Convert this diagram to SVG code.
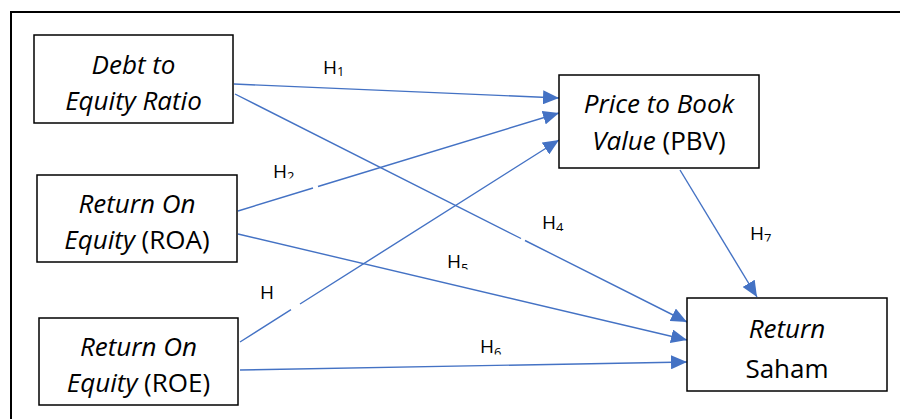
<svg xmlns="http://www.w3.org/2000/svg" width="900" height="419" viewBox="0 0 900 419">
<style>
.box{fill:#fff;stroke:#000;stroke-width:1.5}
.t{font-family:"Open Sans","Noto Sans",sans-serif;font-size:26px;fill:#000;text-anchor:middle}
.i{font-style:italic}
.c{fill:none;stroke:#4472C4;stroke-width:1.4}
.lab{font-family:"Open Sans","Noto Sans",sans-serif;font-size:19px;fill:#000}
.sub{font-size:13px}
</style>
<defs>
<marker id="ah" markerUnits="userSpaceOnUse" markerWidth="16" markerHeight="14" refX="16" refY="7" orient="auto">
<path d="M0,0 L16,7 L0,14 z" fill="#4472C4"/>
</marker>
<clipPath id="c2" clipPathUnits="userSpaceOnUse"><rect x="0" y="0" width="900" height="178.5"/></clipPath>
<clipPath id="c4" clipPathUnits="userSpaceOnUse"><rect x="0" y="0" width="900" height="231"/></clipPath>
<clipPath id="c5" clipPathUnits="userSpaceOnUse"><rect x="0" y="0" width="900" height="269.5"/></clipPath>
<clipPath id="c6" clipPathUnits="userSpaceOnUse"><rect x="0" y="0" width="900" height="354.5"/></clipPath>
<clipPath id="c7" clipPathUnits="userSpaceOnUse"><rect x="0" y="0" width="900" height="241.5"/></clipPath>
</defs>
<rect width="900" height="419" fill="#fff"/>
<path d="M11,419 V12 H900" fill="none" stroke="#000" stroke-width="2"/>

<g id="connectors">
<path class="c" d="M234,84 L559,98" marker-end="url(#ah)"/>
<path class="c" d="M235,94 L521,238.5 M525,240.5 L687,322" marker-end="url(#ah)"/>
<path class="c" d="M238,211 L313,188 M318,186.5 L559,113" marker-end="url(#ah)"/>
<path class="c" d="M238,234 L687,340" marker-end="url(#ah)"/>
<path class="c" d="M240,342 L291,309.7 M300,304 L559,140" marker-end="url(#ah)"/>
<path class="c" d="M240,370 L687,362" marker-end="url(#ah)"/>
<path class="c" d="M680,170 L757,297" marker-end="url(#ah)"/>
</g>

<g id="labels">
<text class="lab" x="323" y="74">H<tspan class="sub" dy="2">1</tspan></text>
<g clip-path="url(#c2)"><text class="lab" x="273" y="178">H<tspan class="sub" dy="3">2</tspan></text></g>
<text class="lab" x="260" y="299">H</text>
<g clip-path="url(#c4)"><text class="lab" x="542" y="229">H<tspan class="sub" dy="3">4</tspan></text></g>
<g clip-path="url(#c5)"><text class="lab" x="447" y="268">H<tspan class="sub" dy="5">5</tspan></text></g>
<g clip-path="url(#c6)"><text class="lab" x="480" y="353">H<tspan class="sub" dy="4">6</tspan></text></g>
<g clip-path="url(#c7)"><text class="lab" x="750" y="240">H<tspan class="sub" dy="3">7</tspan></text></g>
</g>

<g id="der">
<rect class="box" x="34" y="35" width="199" height="88"/>
<text class="t i" x="133.5" y="74">Debt to</text>
<text class="t i" x="133.5" y="110">Equity Ratio</text>
</g>

<g id="roa">
<rect class="box" x="37" y="175" width="200" height="87"/>
<text class="t" x="137" y="213"><tspan class="i">Return On</tspan></text>
<text class="t" x="137" y="249"><tspan class="i">Equity</tspan> (ROA)</text>
</g>

<g id="roe">
<rect class="box" x="39" y="318" width="199" height="87"/>
<text class="t" x="138.5" y="356"><tspan class="i">Return On</tspan></text>
<text class="t" x="138.5" y="392"><tspan class="i">Equity</tspan> (ROE)</text>
</g>

<g id="pbv">
<rect class="box" x="559" y="75" width="200" height="93"/>
<text class="t" x="659" y="113"><tspan class="i">Price to Book</tspan></text>
<text class="t" x="659" y="150"><tspan class="i">Value</tspan> (PBV)</text>
</g>

<g id="saham">
<rect class="box" x="687" y="298" width="200" height="93"/>
<text class="t i" x="787" y="338">Return</text>
<text class="t" x="787" y="378">Saham</text>
</g>
</svg>
